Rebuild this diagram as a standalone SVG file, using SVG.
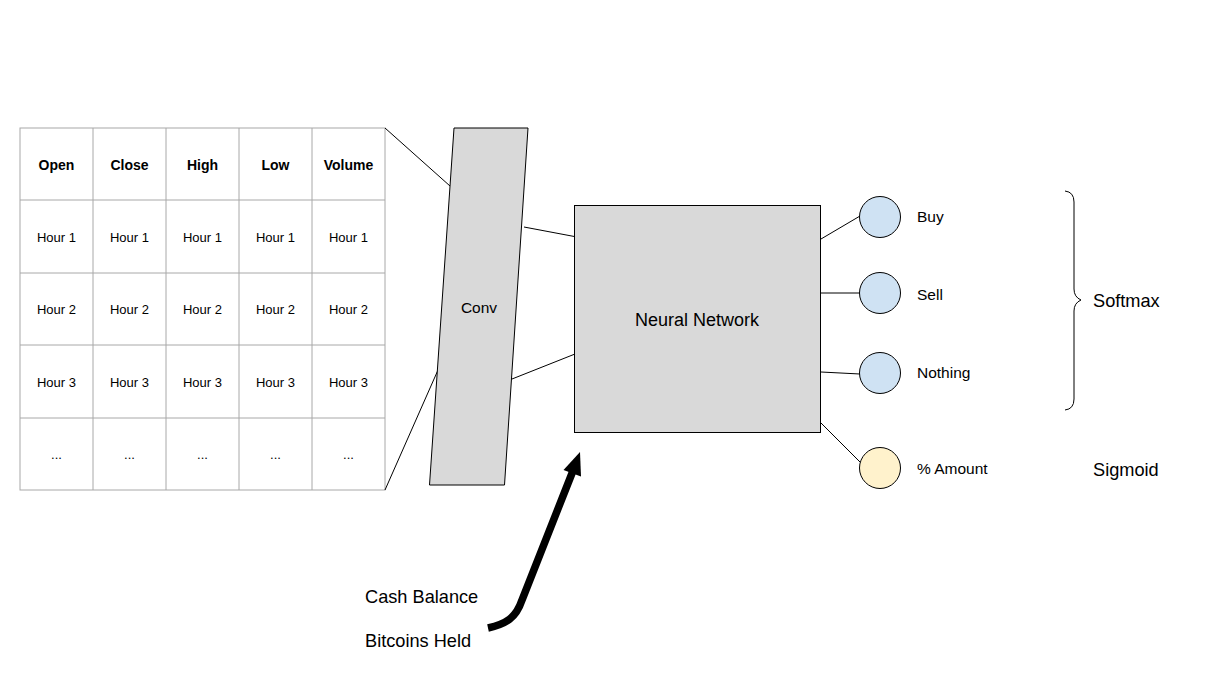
<svg xmlns="http://www.w3.org/2000/svg" width="1216" height="684" viewBox="0 0 1216 684">
<style>
text{font-family:"Liberation Sans",Arial,sans-serif;fill:#000}
.grid{stroke:#a8a8a8;stroke-width:1;fill:none}
.hd{font-size:14px;font-weight:bold;text-anchor:middle}
.cell{font-size:13px;text-anchor:middle}
.ln{stroke:#000;stroke-width:1;fill:none}
.node{fill:#d9d9d9;stroke:#000;stroke-width:1}
.out{stroke:#000;stroke-width:1}
.lbl{font-size:15.5px}
.big{font-size:18.2px}
</style>
<rect width="1216" height="684" fill="#fff"/>
<g id="table">
<rect x="20" y="128" width="365" height="362" fill="#fff" class="grid"/>
<path class="grid" d="M93,128V490M166,128V490M239,128V490M312,128V490M20,200H385M20,273H385M20,345H385M20,418H385"/>
<text class="hd" x="56.5" y="170">Open</text>
<text class="hd" x="129.5" y="170">Close</text>
<text class="hd" x="202.5" y="170">High</text>
<text class="hd" x="275.5" y="170">Low</text>
<text class="hd" x="348.5" y="170">Volume</text>
<g class="cell">
<text class="cell" x="56.5" y="242">Hour 1</text><text class="cell" x="129.5" y="242">Hour 1</text><text class="cell" x="202.5" y="242">Hour 1</text><text class="cell" x="275.5" y="242">Hour 1</text><text class="cell" x="348.5" y="242">Hour 1</text>
<text class="cell" x="56.5" y="314">Hour 2</text><text class="cell" x="129.5" y="314">Hour 2</text><text class="cell" x="202.5" y="314">Hour 2</text><text class="cell" x="275.5" y="314">Hour 2</text><text class="cell" x="348.5" y="314">Hour 2</text>
<text class="cell" x="56.5" y="387">Hour 3</text><text class="cell" x="129.5" y="387">Hour 3</text><text class="cell" x="202.5" y="387">Hour 3</text><text class="cell" x="275.5" y="387">Hour 3</text><text class="cell" x="348.5" y="387">Hour 3</text>
<text class="cell" x="56.5" y="459">...</text><text class="cell" x="129.5" y="459">...</text><text class="cell" x="202.5" y="459">...</text><text class="cell" x="275.5" y="459">...</text><text class="cell" x="348.5" y="459">...</text>
</g>
</g>
<g id="connectors">
<line class="ln" x1="385" y1="128" x2="450" y2="186"/>
<line class="ln" x1="385" y1="490" x2="438" y2="370"/>
<line class="ln" x1="524" y1="227" x2="577" y2="237"/>
<line class="ln" x1="512" y1="379" x2="575" y2="354"/>
<line class="ln" x1="821" y1="239" x2="860" y2="216"/>
<line class="ln" x1="821" y1="293" x2="860" y2="293"/>
<line class="ln" x1="821" y1="372" x2="860" y2="374"/>
<line class="ln" x1="821" y1="423" x2="860" y2="462"/>
<path d="M488,628 C506,624 516,618 522,600 L572.5,472" fill="none" stroke="#000" stroke-width="7.5"/>
<polygon points="580,452 581,476.5 563.5,470" fill="#000"/>
</g>
<g id="conv">
<polygon class="node" points="454,128 528,128 504.5,485 429.5,485"/>
<text class="lbl" x="479" y="313" text-anchor="middle">Conv</text>
</g>
<g id="nn">
<rect class="node" x="574.5" y="205.5" width="246" height="227"/>
<text x="697" y="326" font-size="18" text-anchor="middle">Neural Network</text>
</g>
<g id="buy"><circle class="out" cx="880" cy="217" r="20.5" fill="#cfe2f3"/><text class="lbl" x="917" y="222">Buy</text></g>
<g id="sell"><circle class="out" cx="880" cy="293" r="20.5" fill="#cfe2f3"/><text class="lbl" x="917" y="300">Sell</text></g>
<g id="nothing"><circle class="out" cx="880" cy="373" r="20.5" fill="#cfe2f3"/><text class="lbl" x="917" y="378">Nothing</text></g>
<g id="amount"><circle class="out" cx="880" cy="468" r="20.5" fill="#fff2cc"/><text class="lbl" x="917" y="474">% Amount</text></g>
<g id="softmax">
<path class="ln" d="M1065,191 Q1074,192 1074,202 L1074,289 Q1074,297 1081,300 Q1074,303 1074,311 L1074,399 Q1074,409 1065,410"/>
<text class="big" x="1093" y="307">Softmax</text>
</g>
<g id="sigmoid"><text class="big" x="1093" y="476">Sigmoid</text></g>
<g id="inputs">
<text class="big" x="365" y="603">Cash Balance</text>
<text class="big" x="365" y="647">Bitcoins Held</text>
</g>
</svg>
